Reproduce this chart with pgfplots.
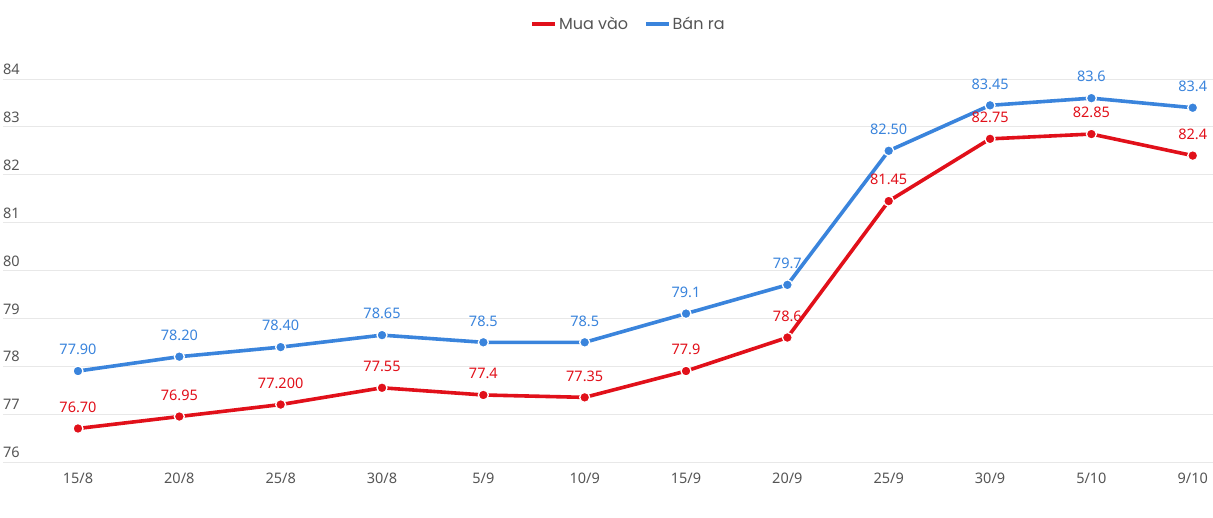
\documentclass[border=0pt]{standalone}
\usepackage{fontspec}
\setmainfont{Noto Sans}
\newfontfamily\legfont{Poppins}
\usepackage{pgfplots}
\usepackage{pgfplotstable}
\pgfplotsset{compat=1.18}
\definecolor{cred}{HTML}{E1101A}
\definecolor{cblue}{HTML}{3A84DC}
\definecolor{tgray}{HTML}{555555}
\definecolor{ggray}{HTML}{E8E8E8}
\pgfplotstableread{
x y label
0 76.70 76.70
1 76.95 76.95
2 77.20 77.200
3 77.55 77.55
4 77.40 77.4
5 77.35 77.35
6 77.90 77.9
7 78.60 78.6
8 81.45 81.45
9 82.75 82.75
10 82.85 82.85
11 82.40 82.4
}\muavao
\pgfplotstableread{
x y label
0 77.90 77.90
1 78.20 78.20
2 78.40 78.40
3 78.65 78.65
4 78.50 78.5
5 78.50 78.5
6 79.10 79.1
7 79.70 79.7
8 82.50 82.50
9 83.45 83.45
10 83.60 83.6
11 83.40 83.4
}\banra
\begin{document}
\begin{tikzpicture}[x=1pt,y=1pt]
\useasboundingbox (0,0) rectangle (1213,517);
\begin{axis}[
  at={(3pt,55pt)}, anchor=south west,
  scale only axis, width=1210pt, height=383pt,
  xmin=-0.74, xmax=11.2, ymin=76, ymax=84,
  ytick={76,77,...,84},
  xtick={0,...,11},
  xticklabels={15/8,20/8,25/8,30/8,5/9,10/9,15/9,20/9,25/9,30/9,5/10,9/10},
  /pgf/number format/assume math mode=true,
  axis line style={draw=none}, tick style={draw=none},
  ymajorgrids, grid style={ggray, line width=0.8pt},
  ticklabel style={font=\fontsize{14.5}{17}\selectfont, text=tgray},
  yticklabel style={anchor=south west, inner sep=0pt, yshift=4pt},
  xticklabel style={yshift=-7pt},
  clip=false,
  point meta=explicit symbolic,
  nodes near coords,
  nodes near coords style={anchor=south, yshift=12pt, font=\fontsize{14.5}{17}\selectfont},
  legend style={draw=none, fill=none, legend columns=2, at={(0.517,1.1436)}, anchor=center,
    font=\legfont\fontsize{16}{19}\selectfont, text=tgray,
    /tikz/every even column/.append style={column sep=14pt}},
  legend image code/.code={\draw[line width=3.5pt] (0pt,0pt) -- (23pt,0pt);},
]
\addplot[cred, line width=3.6pt, mark=*, mark size=5pt,
  mark options={draw=white, line width=1.3pt, fill=cred},
  every node near coord/.append style={text=cred}]
  table[x=x, y=y, meta=label] {\muavao};
\addlegendentry{Mua vào}
\addplot[cblue, line width=3.6pt, mark=*, mark size=5pt,
  mark options={draw=white, line width=1.3pt, fill=cblue},
  every node near coord/.append style={text=cblue}]
  table[x=x, y=y, meta=label] {\banra};
\addlegendentry{Bán ra}
\end{axis}
\end{tikzpicture}
\end{document}
